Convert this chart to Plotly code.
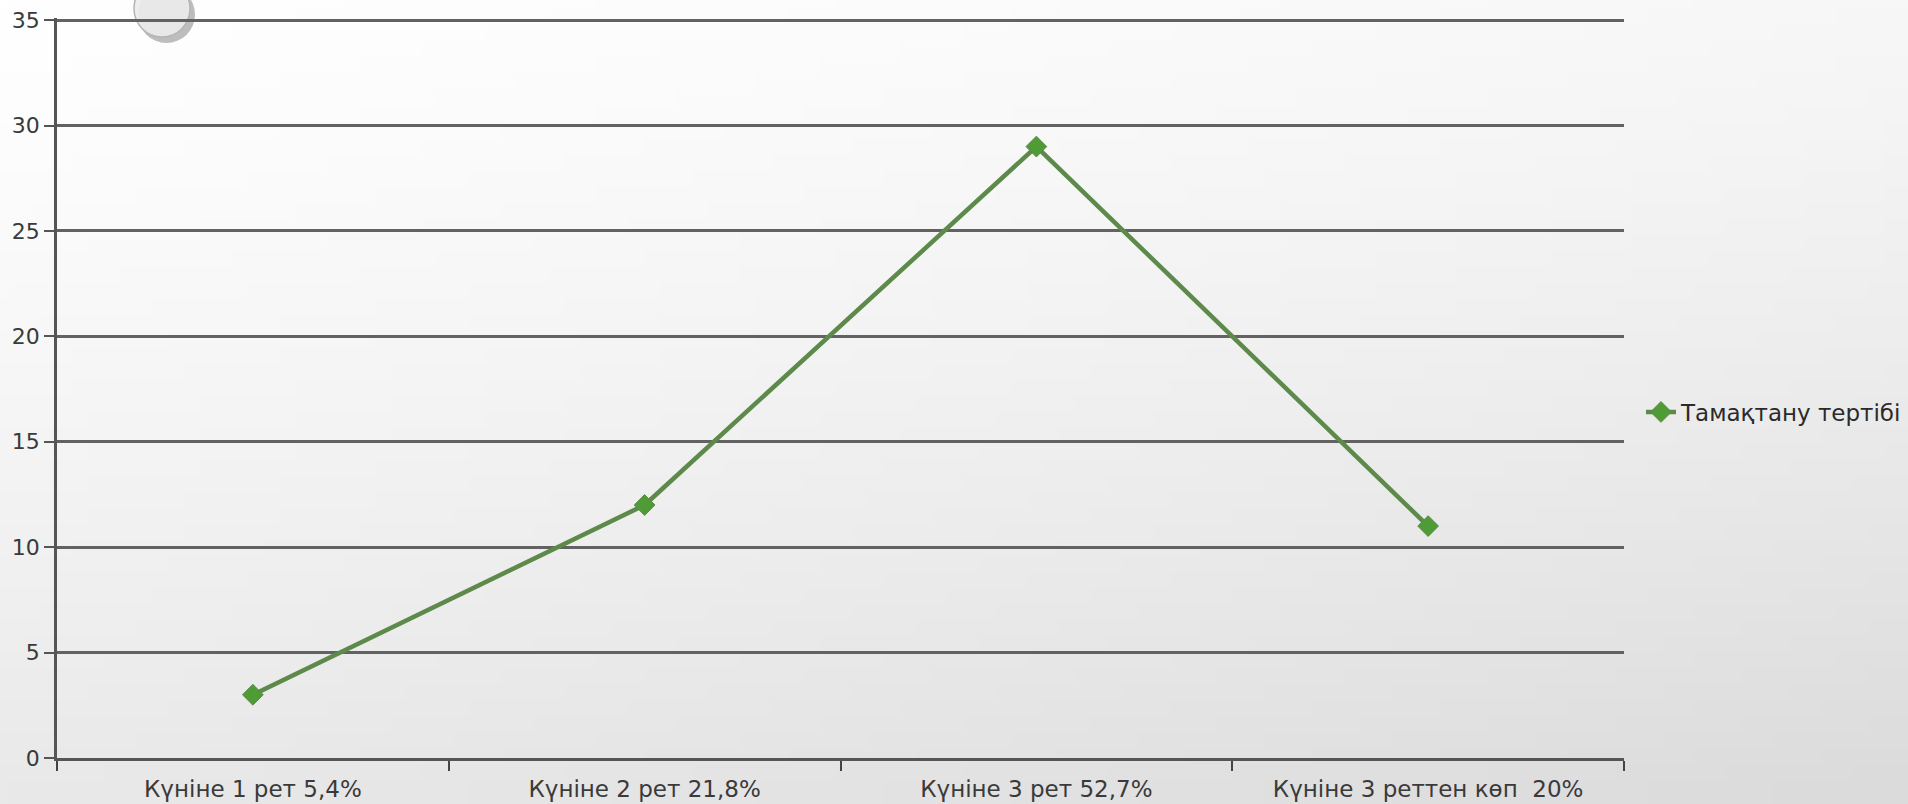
import base64, struct, zlib
import plotly.graph_objects as go

categories = ["Күніне 1 рет 5,4%", "Күніне 2 рет 21,8%", "Күніне 3 рет 52,7%", "Күніне 3 реттен көп  20%"]
values = [3, 12, 29, 11]
series_name = "Тамақтану тертібі"
y_ticks = [0, 5, 10, 15, 20, 25, 30, 35]
y_max = 35.1

W, H = 1908, 804
L, R, T, B = 57, 284, 18, 46
PW, PH = W - L - R, H - T - B


def gradient_png(w, h):
    rows = []
    for j in range(h):
        row = bytearray([0])
        for i in range(w):
            nx, ny = i / (w - 1), j / (h - 1)
            v = 255 - 8 * nx ** 1.2 - 22 * ny ** 1.3 - 6 * nx * ny
            v = int(max(214, min(255, v)))
            row += bytes([v, v, v])
        rows.append(bytes(row))
    raw = b"".join(rows)

    def chunk(t, d):
        c = t + d
        return struct.pack(">I", len(d)) + c + struct.pack(">I", zlib.crc32(c) & 0xffffffff)

    png = b"\x89PNG\r\n\x1a\n" + chunk(b"IHDR", struct.pack(">IIBBBBB", w, h, 8, 2, 0, 0, 0))
    png += chunk(b"IDAT", zlib.compress(raw, 9)) + chunk(b"IEND", b"")
    return "data:image/png;base64," + base64.b64encode(png).decode()


def px_x(x):
    return (x - L) / PW


def px_y(y):
    return 1 - (y - T) / PH


fig = go.Figure()
fig.add_trace(go.Scatter(
    x=categories, y=values, mode="lines+markers", name=series_name,
    line=dict(color="#5d8a4a", width=4.5),
    marker=dict(symbol="diamond", size=16, color="#4f9c37", line=dict(color="#5d8a4a", width=1)),
))

fig.update_layout(
    width=W, height=H,
    margin=dict(l=L, r=R, t=T, b=B, autoexpand=False),
    paper_bgcolor="#ffffff", plot_bgcolor="rgba(0,0,0,0)",
    font=dict(family="DejaVu Sans", size=22, color="#3a3a3a"),
    showlegend=True,
    legend=dict(x=px_x(1641), y=px_y(412), xanchor="left", yanchor="middle",
                bgcolor="rgba(0,0,0,0)", font=dict(size=23, color="#2a2a2a")),
    images=[dict(source=gradient_png(120, 50), xref="paper", yref="paper",
                 x=px_x(0), y=px_y(0), sizex=W / PW, sizey=H / PH,
                 xanchor="left", yanchor="top", sizing="stretch", layer="below")],
    shapes=[
        dict(type="circle", xref="paper", yref="paper", layer="below",
             x0=px_x(138), x1=px_x(195), y0=px_y(-14), y1=px_y(43),
             fillcolor="rgba(110,110,110,0.45)", line=dict(width=0)),
        dict(type="circle", xref="paper", yref="paper", layer="below",
             x0=px_x(134), x1=px_x(190), y0=px_y(-20), y1=px_y(37),
             fillcolor="rgba(236,236,236,0.9)", line=dict(color="#b5b5b5", width=1.5)),
    ],
)

fig.update_xaxes(
    type="category", range=[-0.5, 3.5], tickson="boundaries",
    ticks="outside", ticklen=10, tickwidth=2, tickcolor="#444444",
    showline=True, linecolor="#555555", linewidth=2.5,
    showgrid=False, ticklabelstandoff=9,
    tickfont=dict(size=23, color="#3a3a3a"),
)
fig.update_yaxes(
    range=[0, y_max], tickvals=y_ticks, ticktext=[str(v) for v in y_ticks],
    ticks="outside", ticklen=10, tickwidth=2, tickcolor="#555555",
    showline=True, linecolor="#555555", linewidth=2.5,
    showgrid=True, gridcolor="#626262", gridwidth=3, zeroline=False,
    tickfont=dict(size=22, color="#3a3a3a"),
)

fig.write_html("out.html")
